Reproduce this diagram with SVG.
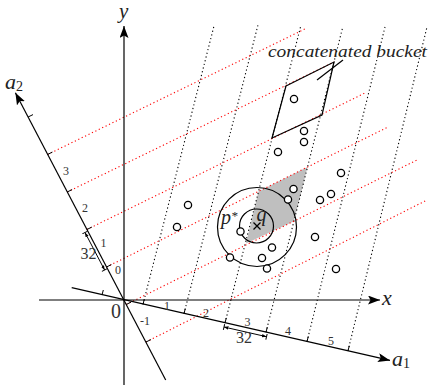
<svg xmlns="http://www.w3.org/2000/svg" width="429" height="385" viewBox="0 0 429 385">
<style>
.ax{stroke:#000;stroke-width:1.2;fill:none}
.bd{stroke:#000;stroke-width:1.1;stroke-dasharray:1.2 2.6;fill:none}
.rd{stroke:#ff0000;stroke-width:1.1;stroke-dasharray:1.2 2.6;fill:none}
.tk{stroke:#000;stroke-width:1;fill:none}
.pt{stroke:#000;stroke-width:1.3;fill:#fff}
.ln{stroke:#000;stroke-width:1.2;fill:none}
.it{font-family:"Liberation Serif",serif;font-style:italic;fill:#222}
.nm{font-family:"Liberation Serif",serif;fill:#333}
</style>
<defs>
<marker id="arr" markerUnits="userSpaceOnUse" markerWidth="13" markerHeight="10" refX="12" refY="4.5" orient="auto">
<path d="M0,0 L12,4.5 L0,9 L2.5,4.5 z" fill="#000"/>
</marker>
<marker id="sm" markerUnits="userSpaceOnUse" markerWidth="6" markerHeight="8" refX="4.5" refY="3" orient="auto-start-reverse">
<path d="M0,1.3 L4.5,3 L0,4.7 z" fill="#000"/>
<path d="M4.5,0 V6" stroke="#000" stroke-width="1"/>
</marker>
</defs>

<g id="cell">
<polygon points="258.5,191.4 307.5,167.1 293.9,221.2 246,243.5" fill="#bfbfbf"/>
</g>

<g id="grid">
<line class="bd" x1="143" y1="304.3" x2="214" y2="26"/>
<line class="bd" x1="184" y1="313.6" x2="258" y2="25"/>
<line class="bd" x1="225" y1="322.9" x2="301" y2="25"/>
<line class="bd" x1="266" y1="332.2" x2="342.5" y2="28"/>
<line class="bd" x1="307" y1="341.5" x2="385" y2="27"/>
<line class="bd" x1="348" y1="350.8" x2="427" y2="27"/>
<line class="rd" x1="47.5" y1="154.5" x2="307" y2="28"/>
<line class="rd" x1="67.2" y1="192" x2="334" y2="62"/>
<line class="rd" x1="86.9" y1="229.5" x2="365" y2="93"/>
<line class="rd" x1="106.5" y1="267" x2="388" y2="127"/>
<line class="rd" x1="126.2" y1="304.5" x2="417" y2="160"/>
<line class="rd" x1="146" y1="342" x2="427" y2="200"/>
</g>

<g id="axes">
<line class="ax" x1="39" y1="300" x2="380" y2="300" marker-end="url(#arr)"/>
<line class="ax" x1="124" y1="385" x2="124" y2="26" marker-end="url(#arr)"/>
<line class="ax" x1="71.7" y1="287.7" x2="390" y2="360.4" marker-end="url(#arr)"/>
<line class="ax" x1="165.7" y1="380" x2="15.4" y2="92.7" marker-end="url(#arr)"/>
</g>

<g id="ticks">
<line class="tk" x1="102" y1="295" x2="103.3" y2="290"/>
<line class="tk" x1="143" y1="304.3" x2="144.3" y2="299.3"/>
<line class="tk" x1="184" y1="313.6" x2="185.3" y2="308.6"/>
<line class="tk" x1="225" y1="322.9" x2="226.3" y2="317.9"/>
<line class="tk" x1="266" y1="332.2" x2="267.3" y2="327.2"/>
<line class="tk" x1="307" y1="341.5" x2="308.3" y2="336.5"/>
<line class="tk" x1="348" y1="350.8" x2="349.3" y2="345.8"/>
<line class="tk" x1="28.1" y1="117" x2="33" y2="114.6"/>
<line class="tk" x1="47.5" y1="154.5" x2="52.4" y2="152.1"/>
<line class="tk" x1="67.2" y1="192" x2="72.1" y2="189.6"/>
<line class="tk" x1="86.9" y1="229.5" x2="91.8" y2="227.1"/>
<line class="tk" x1="106.5" y1="267" x2="111.4" y2="264.6"/>
<line class="tk" x1="126.2" y1="304.5" x2="131.1" y2="302.1"/>
<line class="tk" x1="146" y1="342" x2="150.9" y2="339.6"/>
</g>

<g id="measures">
<line class="tk" x1="224" y1="327" x2="266.5" y2="336.7" marker-start="url(#sm)" marker-end="url(#sm)"/>
<line class="tk" x1="85" y1="232.5" x2="104.6" y2="270" marker-start="url(#sm)" marker-end="url(#sm)"/>
<text class="nm" x="244" y="342.5" font-size="16" text-anchor="middle">32</text>
<text class="nm" x="88.5" y="258.5" font-size="16" text-anchor="middle">32</text>
</g>

<g id="bucket">
<polygon class="ln" points="286,86 334,62 322,115 272,138"/>
<line class="ln" x1="317" y1="80" x2="343" y2="60"/>
<text class="it" x="268" y="57" font-size="17" textLength="159" lengthAdjust="spacingAndGlyphs">concatenated bucket</text>
</g>

<g id="query">
<circle class="ln" cx="257" cy="227" r="39.5" fill="none"/>
<circle class="ln" cx="256.5" cy="226" r="17" fill="none"/>
<path d="M253.5,222.5 L260.5,229.5 M260.5,222.5 L253.5,229.5" stroke="#000" stroke-width="1.3"/>
<text class="it" x="221" y="224" font-size="20">p<tspan font-size="13" dy="-4">*</tspan></text>
<text class="it" x="256.5" y="221" font-size="20">q</text>
</g>

<g id="points">
<circle class="pt" cx="294" cy="99" r="3.6"/>
<circle class="pt" cx="304" cy="131" r="3.6"/>
<circle class="pt" cx="304" cy="142" r="3.6"/>
<circle class="pt" cx="278" cy="152" r="3.6"/>
<circle class="pt" cx="341" cy="173" r="3.6"/>
<circle class="pt" cx="293.5" cy="189" r="3.6"/>
<circle class="pt" cx="331" cy="194" r="3.6"/>
<circle class="pt" cx="320" cy="200" r="3.6"/>
<circle class="pt" cx="288" cy="199.5" r="3.6"/>
<circle class="pt" cx="188" cy="205" r="3.6"/>
<circle class="pt" cx="177" cy="227" r="3.6"/>
<circle class="pt" cx="240.5" cy="231.5" r="3.6"/>
<circle class="pt" cx="315" cy="237" r="3.6"/>
<circle class="pt" cx="272" cy="247.5" r="3.6"/>
<circle class="pt" cx="230" cy="257.5" r="3.6"/>
<circle class="pt" cx="262" cy="258" r="3.6"/>
<circle class="pt" cx="267" cy="268.5" r="3.6"/>
<circle class="pt" cx="336" cy="269" r="3.6"/>
</g>

<g id="labels">
<text class="it" x="119" y="18" font-size="21">y</text>
<text class="it" x="382" y="305" font-size="22">x</text>
<text class="it" x="5" y="89" font-size="22">a<tspan font-size="14" font-style="normal" dy="2">2</tspan></text>
<text class="it" x="392" y="366" font-size="22">a<tspan font-size="14" font-style="normal" dy="2">1</tspan></text>
<text class="nm" x="116" y="318" font-size="20" text-anchor="middle">0</text>
<text class="nm" x="167" y="309.5" font-size="12" text-anchor="middle">1</text>
<text class="nm" x="206" y="317" font-size="12" text-anchor="middle">2</text>
<text class="nm" x="247.5" y="326" font-size="12" text-anchor="middle">3</text>
<text class="nm" x="288" y="335" font-size="12" text-anchor="middle">4</text>
<text class="nm" x="331" y="345" font-size="12" text-anchor="middle">5</text>
<text class="nm" x="66" y="175" font-size="12" text-anchor="middle">3</text>
<text class="nm" x="85" y="212" font-size="12" text-anchor="middle">2</text>
<text class="nm" x="103.5" y="247" font-size="12" text-anchor="middle">1</text>
<text class="nm" x="118" y="274" font-size="12" text-anchor="middle">0</text>
<text class="nm" x="145" y="324.5" font-size="12" text-anchor="middle">-1</text>
</g>
</svg>
